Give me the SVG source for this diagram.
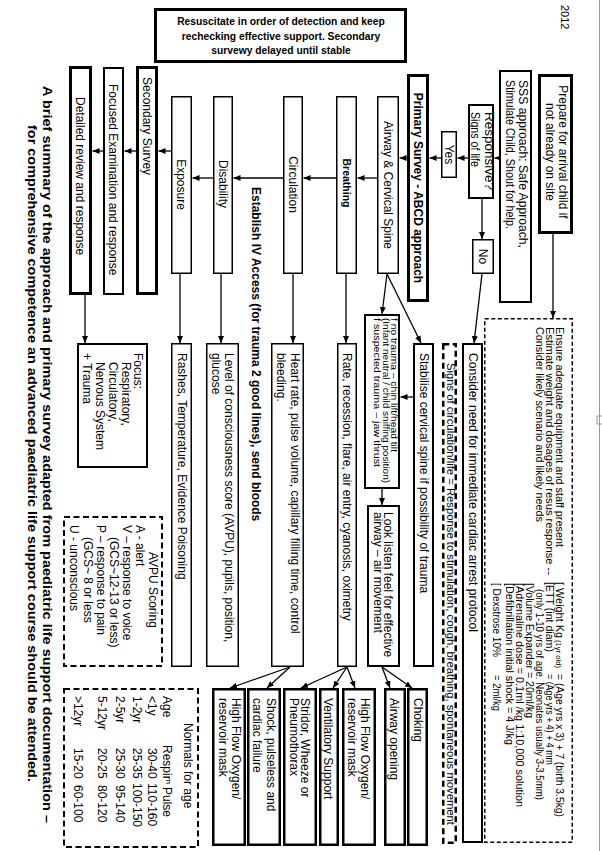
<svg xmlns="http://www.w3.org/2000/svg" width="602" height="851" viewBox="0 0 602 851">
<style>
.t{font-family:"Liberation Sans",Arial,sans-serif;font-size:12px;fill:#000}
.bd{font-weight:bold}
.s{font-size:10.5px}
.xs{font-size:9px}
rect{fill:#fff;stroke:#000}
.w1{stroke-width:1.5}
.w2{stroke-width:2}
.w25{stroke-width:2.5}
.w3{stroke-width:3}
.dl{stroke-dasharray:6 3.5}
.ds{stroke-dasharray:4 2.5}
#connectors line{stroke:#000;stroke-width:1.3;marker-end:url(#ah)}
</style>
<defs>
<marker id="ah" markerUnits="userSpaceOnUse" markerWidth="8" markerHeight="6" refX="7" refY="3" orient="auto"><path d="M0,0 L7,3 L0,6 Z" fill="#000"/></marker>
</defs>
<rect x="0" y="0" width="602" height="851" style="fill:#fff;stroke:none"/>
<g id="page-edge"><line x1="599.5" y1="0" x2="599.5" y2="851" stroke="#999" stroke-width="1"/><path d="M602,416 H597 V424 H602" fill="none" stroke="#999" stroke-width="1"/></g>
<text class="t" style="font-size:11px" transform="translate(561 5) rotate(90)">2012</text>

<g id="connectors">
<line x1="500" y1="158" x2="494.5" y2="158"/>
<line x1="468" y1="158" x2="457.5" y2="158"/>
<line x1="441" y1="158" x2="429.5" y2="158"/>
<line x1="407" y1="158" x2="399.5" y2="158"/>
<line x1="377" y1="178" x2="357.5" y2="178"/>
<line x1="336" y1="178" x2="303.5" y2="178"/>
<line x1="283" y1="178" x2="233.5" y2="178"/>
<line x1="213" y1="178" x2="192.5" y2="178"/>
<line x1="171" y1="151" x2="158.5" y2="151"/>
<line x1="136" y1="151" x2="124.5" y2="151"/>
<line x1="103" y1="151" x2="92.5" y2="151"/>
<line x1="553" y1="234" x2="553" y2="318"/>
<line x1="482" y1="199" x2="482" y2="239"/>
<line x1="482" y1="274" x2="474" y2="343"/>
<line x1="387" y1="274" x2="382" y2="314"/>
<line x1="387" y1="274" x2="421" y2="343"/>
<line x1="413" y1="397" x2="400.5" y2="397"/>
<line x1="382" y1="489" x2="382" y2="505"/>
<line x1="346" y1="274" x2="346" y2="343"/>
<line x1="293" y1="274" x2="293" y2="343"/>
<line x1="221" y1="274" x2="221" y2="343"/>
<line x1="180" y1="274" x2="180" y2="343"/>
<line x1="85" y1="295" x2="85" y2="343"/>
<line x1="382" y1="667" x2="390" y2="688"/>
<line x1="382" y1="667" x2="412" y2="688"/>
<line x1="347" y1="667" x2="301" y2="688"/>
<line x1="347" y1="667" x2="333" y2="688"/>
<line x1="347" y1="667" x2="355" y2="688"/>
<line x1="290" y1="667" x2="230" y2="688"/>
<line x1="290" y1="667" x2="267" y2="688"/>
</g>

<g id="resuscitate">
<rect class="w3" x="155.5" y="9.5" width="250" height="52"/>
<text class="t bd" style="font-size:10.3px" text-anchor="middle"><tspan x="281" y="24.5">Resuscitate in order of detection and keep</tspan><tspan x="281" y="39.5">rechecking effective support. Secondary</tspan><tspan x="281" y="53.5">survewy delayed until stable</tspan></text>
</g>

<g id="prepare">
<rect class="w3" x="539.5" y="75.5" width="32" height="157"/>
<text class="t" text-anchor="middle" transform="translate(558.8 152) rotate(90)"><tspan x="0" y="0">Prepare for arrival child if</tspan><tspan x="0" y="13">not already on site</tspan></text>
</g>

<g id="sss">
<rect class="w2" x="500" y="71" width="31" height="231"/>
<text class="t" transform="translate(518.8 80) rotate(90)" textLength="168" lengthAdjust="spacingAndGlyphs">SSS approach: Safe Approach,</text>
<text class="t" transform="translate(505.8 80) rotate(90)" textLength="149" lengthAdjust="spacingAndGlyphs">Stimulate Child, Shout for help.</text>
</g>

<g id="responsive">
<rect class="w2" x="469" y="105" width="24" height="93"/>
<text class="t" transform="translate(484.5 112) rotate(90)" textLength="78" lengthAdjust="spacingAndGlyphs">Responsive?</text>
<text class="t" transform="translate(471 112) rotate(90)" textLength="55" lengthAdjust="spacingAndGlyphs">Signs of life</text>
</g>

<g id="yes">
<rect class="w1" x="441.75" y="131.75" width="14.5" height="45.5"/>
<text class="t" text-anchor="middle" transform="translate(444.8 154.5) rotate(90)">Yes</text>
</g>

<g id="no">
<rect class="w1" x="472.75" y="239.75" width="20.5" height="33.5"/>
<text class="t" text-anchor="middle" transform="translate(478.8 256.5) rotate(90)">No</text>
</g>

<g id="primary-survey">
<rect class="w3" x="408.5" y="75.5" width="19" height="225"/>
<text class="t bd" text-anchor="middle" transform="translate(413.8 188) rotate(90)">Primary Survey - ABCD approach</text>
</g>

<g id="airway">
<rect class="w1" x="377.75" y="96.75" width="20.5" height="176.5"/>
<text class="t" text-anchor="middle" transform="translate(383.8 185) rotate(90)">Airway &amp; Cervical Spine</text>
</g>

<g id="breathing">
<rect class="w1" x="336.75" y="96.75" width="19.5" height="176.5"/>
<text class="t bd" style="font-size:10.5px" text-anchor="middle" transform="translate(343.3 183) rotate(90)">Breathing</text>
</g>

<g id="circulation">
<rect class="w1" x="283.75" y="96.75" width="18.5" height="176.5"/>
<text class="t" text-anchor="middle" transform="translate(288.8 184.5) rotate(90)">Circulation</text>
</g>

<g id="disability">
<rect class="w1" x="213.75" y="96.75" width="18.5" height="176.5"/>
<text class="t" text-anchor="middle" transform="translate(218.8 184) rotate(90)">Disability</text>
</g>

<g id="exposure">
<rect class="w1" x="171.75" y="96.75" width="19.5" height="176.5"/>
<text class="t" text-anchor="middle" transform="translate(176.8 184.5) rotate(90)">Exposure</text>
</g>

<text class="t bd" transform="translate(251.8 187) rotate(90)">Establish IV Access  (for trauma 2 good lines), send bloods</text>

<g id="secondary-survey">
<rect class="w3" x="137.5" y="67.5" width="19" height="226"/>
<text class="t" transform="translate(142.8 77) rotate(90)">Secondary Survey</text>
</g>

<g id="focused">
<rect class="w2" x="104" y="68" width="19" height="226"/>
<text class="t" transform="translate(108.8 84) rotate(90)">Focused Examination and response</text>
</g>

<g id="detailed">
<rect class="w3" x="70.5" y="67.5" width="20" height="226"/>
<text class="t" transform="translate(75.8 97) rotate(90)">Detailed review and response</text>
</g>

<g id="focus">
<rect class="w2" x="78" y="344" width="69" height="123"/>
<text class="t" transform="translate(133.8 353) rotate(90)">Focus:</text>
<text class="t" transform="translate(121.8 362) rotate(90)"><tspan x="0" y="0">Respiratory,</tspan><tspan x="0" y="13">Circulatory,</tspan><tspan x="0" y="26">Nervous System</tspan></text>
<text class="t" transform="translate(82.8 353) rotate(90)">+ Trauma</text>
</g>

<g id="avpu">
<rect class="w2 dl" x="64" y="517" width="98" height="149"/>
<text class="t" transform="translate(148.8 552) rotate(90)">AVPU Scoring</text>
<text class="t" transform="translate(135.8 525) rotate(90)">A - alert</text>
<text class="t" transform="translate(122.8 525) rotate(90)">V – response to voice</text>
<text class="t" transform="translate(109.8 537) rotate(90)">(GCS~12-13  or less)</text>
<text class="t" transform="translate(96.8 525) rotate(90)">P – response to pain</text>
<text class="t" transform="translate(83.8 537) rotate(90)">(GCS~ 8 or less</text>
<text class="t" transform="translate(69.8 525) rotate(90)">U - unconscious</text>
</g>

<g id="normals">
<rect class="w2 dl" x="64" y="689" width="134" height="158"/>
<text class="t" transform="translate(183.8 723) rotate(90)">Normals for age</text>
<text class="t" transform="translate(162.8 696) rotate(90)">Age</text>
<text class="t" transform="translate(162.8 745) rotate(90)">Respirⁿ</text>
<text class="t" transform="translate(162.8 787) rotate(90)">Pulse</text>
<text class="t" transform="translate(147.8 696) rotate(90)">&lt;1y</text>
<text class="t" transform="translate(147.8 748) rotate(90)">30-40</text>
<text class="t" transform="translate(147.8 783) rotate(90)">110-160</text>
<text class="t" transform="translate(132.8 696) rotate(90)">1-2yr</text>
<text class="t" transform="translate(132.8 748) rotate(90)">25-35</text>
<text class="t" transform="translate(132.8 783) rotate(90)">100-150</text>
<text class="t" transform="translate(115.8 696) rotate(90)">2-5yr</text>
<text class="t" transform="translate(115.8 748) rotate(90)">25-30</text>
<text class="t" transform="translate(115.8 785) rotate(90)">95-140</text>
<text class="t" transform="translate(97.8 696) rotate(90)">5-12yr</text>
<text class="t" transform="translate(97.8 748) rotate(90)">20-25</text>
<text class="t" transform="translate(97.8 785) rotate(90)">80-120</text>
<text class="t" transform="translate(73.8 696) rotate(90)">&gt;12yr</text>
<text class="t" transform="translate(73.8 748) rotate(90)">15-20</text>
<text class="t" transform="translate(73.8 785) rotate(90)">60-100</text>
</g>

<g id="rashes">
<rect class="w1" x="171.75" y="343.75" width="19.5" height="322.5"/>
<text class="t" transform="translate(177.8 353) rotate(90)">Rashes, Temperature,  Evidence Poisoning</text>
</g>

<g id="level">
<rect class="w1" x="206.75" y="343.75" width="31.5" height="322.5"/>
<text class="t" transform="translate(224.8 353) rotate(90)"><tspan x="0" y="0">Level of consciousness score (AVPU), pupils, position,</tspan><tspan x="0" y="13">glucose</tspan></text>
</g>

<g id="heart">
<rect class="w1" x="271.75" y="343.75" width="31.5" height="322.5"/>
<text class="t" transform="translate(290.8 353) rotate(90)"><tspan x="0" y="0">Heart rate, pulse volume, capillary filling time, control</tspan><tspan x="0" y="14">bleeding.</tspan></text>
</g>

<g id="rate">
<rect class="w1" x="337.75" y="343.75" width="18.5" height="322.5"/>
<text class="t" transform="translate(342.8 353) rotate(90)">Rate, recession, flare, air entry, cyanosis, oximetry</text>
</g>

<g id="no-trauma">
<rect class="w2" x="365" y="315" width="34" height="173"/>
<text class="t xs" transform="translate(390.8 318) rotate(90)" textLength="134" lengthAdjust="spacingAndGlyphs">f no trauma – chin lift/head tilt</text>
<text class="t xs" transform="translate(382.8 318) rotate(90)" textLength="165" lengthAdjust="spacingAndGlyphs">(Infant neutral / child sniffing position)</text>
<text class="t xs" transform="translate(373.8 318) rotate(90)" textLength="149" lengthAdjust="spacingAndGlyphs">f suspected trauma – jaw thrust</text>
</g>

<g id="look-listen">
<rect class="w2" x="368" y="506" width="31" height="160"/>
<text class="t" transform="translate(383.8 512) rotate(90)"><tspan x="0" y="0">Look listen feel for effective</tspan><tspan x="0" y="10">airway – air movement</tspan></text>
</g>

<g id="stabilise">
<rect class="w2" x="414" y="344" width="19" height="322"/>
<text class="t" transform="translate(419.8 353) rotate(90)">Stabilise cervical spine if possibility of trauma</text>
</g>

<g id="signs">
<rect class="w25 dl" x="443.25" y="344.25" width="12.5" height="498.5"/>
<text class="t" style="font-size:10.5px" transform="translate(446.8 363) rotate(90)" textLength="462" lengthAdjust="spacingAndGlyphs">Signs of circulation/life = Response to stimulation, cough, breathing, spontaneous movement</text>
</g>

<g id="consider">
<rect class="w2" x="463" y="344" width="19" height="498"/>
<text class="t" transform="translate(468.8 353) rotate(90)" textLength="279" lengthAdjust="spacingAndGlyphs">Consider need  for immediate cardiac arrest protocol</text>
</g>

<g id="ensure">
<rect class="w1 ds" x="484.75" y="318.75" width="87.5" height="523.5"/>
<text class="t s" transform="translate(556.3 327) rotate(90)" textLength="220" lengthAdjust="spacingAndGlyphs">Ensure adequate equipment and staff present</text>
<text class="t s" transform="translate(546.3 327) rotate(90)" textLength="248" lengthAdjust="spacingAndGlyphs">Estimate weight and dosages of resus response  --</text>
<text class="t s" transform="translate(536.3 327) rotate(90)" textLength="195" lengthAdjust="spacingAndGlyphs">Consider likely scenario and likely needs</text>
<text class="t s" transform="translate(556.3 582) rotate(90)" textLength="56" lengthAdjust="spacingAndGlyphs">[ Weight Kg</text>
<text class="t" style="font-size:7px" transform="translate(556.3 640) rotate(90)" textLength="28" lengthAdjust="spacingAndGlyphs">(1yr old)</text>
<text class="t s" transform="translate(556.3 674) rotate(90)" textLength="143" lengthAdjust="spacingAndGlyphs">= (Age yrs x 3) + 7  (birth 3.5kg)</text>
<text class="t s" transform="translate(546.3 582) rotate(90)" textLength="70" lengthAdjust="spacingAndGlyphs">[ETT (int diam)</text>
<text class="t s" transform="translate(546.3 674) rotate(90)" textLength="91" lengthAdjust="spacingAndGlyphs">= (Age yrs + 4) + 4 mm</text>
<text class="t s" transform="translate(536.3 589) rotate(90)" textLength="211" lengthAdjust="spacingAndGlyphs">(only 1-10 yrs of age. Neonates usually 3-3.5mm)</text>
<text class="t s" transform="translate(526.3 583) rotate(90)" textLength="135" lengthAdjust="spacingAndGlyphs">[Volume Expander = 20ml/kg</text>
<text class="t s" transform="translate(516.3 583) rotate(90)" textLength="224" lengthAdjust="spacingAndGlyphs">[Adrenaline dose   = 0.1ml /kg   1:10,000 solution</text>
<text class="t s" transform="translate(505.8 583) rotate(90)" textLength="162" lengthAdjust="spacingAndGlyphs">[Defibrillation initial shock   = 4 J/kg</text>
<text class="t s" transform="translate(493.3 583) rotate(90)" textLength="74" lengthAdjust="spacingAndGlyphs">[ Dexstrose 10%</text>
<text class="t s" transform="translate(493.3 675) rotate(90)" textLength="36" lengthAdjust="spacingAndGlyphs">= 2ml/kg</text>
</g>

<g id="hf-oxygen-1">
<rect class="w25" x="213.25" y="689.25" width="31.5" height="155.5"/>
<text class="t" transform="translate(231.8 698) rotate(90)"><tspan x="0" y="0">High Flow Oxygen/</tspan><tspan x="0" y="13">reservoir mask</tspan></text>
</g>
<g id="shock">
<rect class="w25" x="248.25" y="689.25" width="31.5" height="155.5"/>
<text class="t" transform="translate(266.8 698) rotate(90)"><tspan x="0" y="0">Shock, pulseless and</tspan><tspan x="0" y="14">cardiac failure</tspan></text>
</g>
<g id="stridor">
<rect class="w25" x="284.25" y="689.25" width="31.5" height="155.5"/>
<text class="t" transform="translate(300.8 698) rotate(90)"><tspan x="0" y="0">Stridor, Wheeze or</tspan><tspan x="0" y="11">Pneumothorax</tspan></text>
</g>
<g id="ventilatory">
<rect class="w25" x="320.25" y="689.25" width="17.5" height="155.5"/>
<text class="t" transform="translate(323.8 698) rotate(90)">Ventilatory Support</text>
</g>
<g id="hf-oxygen-2">
<rect class="w25" x="343.25" y="689.25" width="31.5" height="155.5"/>
<text class="t" transform="translate(360.8 698) rotate(90)"><tspan x="0" y="0">High Flow Oxygen/</tspan><tspan x="0" y="13">reservoir mask</tspan></text>
</g>
<g id="airway-opening">
<rect class="w25" x="385.25" y="689.25" width="19.5" height="155.5"/>
<text class="t" transform="translate(389.8 698) rotate(90)">Airway opening</text>
</g>
<g id="choking">
<rect class="w25" x="408.25" y="689.25" width="18.5" height="155.5"/>
<text class="t" transform="translate(413.8 698) rotate(90)">Choking</text>
</g>

<g id="caption">
<text class="t bd" style="font-size:13px" transform="translate(43.4 86) rotate(90)" textLength="737" lengthAdjust="spacingAndGlyphs">A brief summary of the approach and primary survey adapted from paediatric life support documentation –</text>
<text class="t bd" style="font-size:13px" transform="translate(28.4 125) rotate(90)" textLength="657" lengthAdjust="spacingAndGlyphs">for comprehensive competence an advanced paediatric  life support course should be attended.</text>
</g>
</svg>
